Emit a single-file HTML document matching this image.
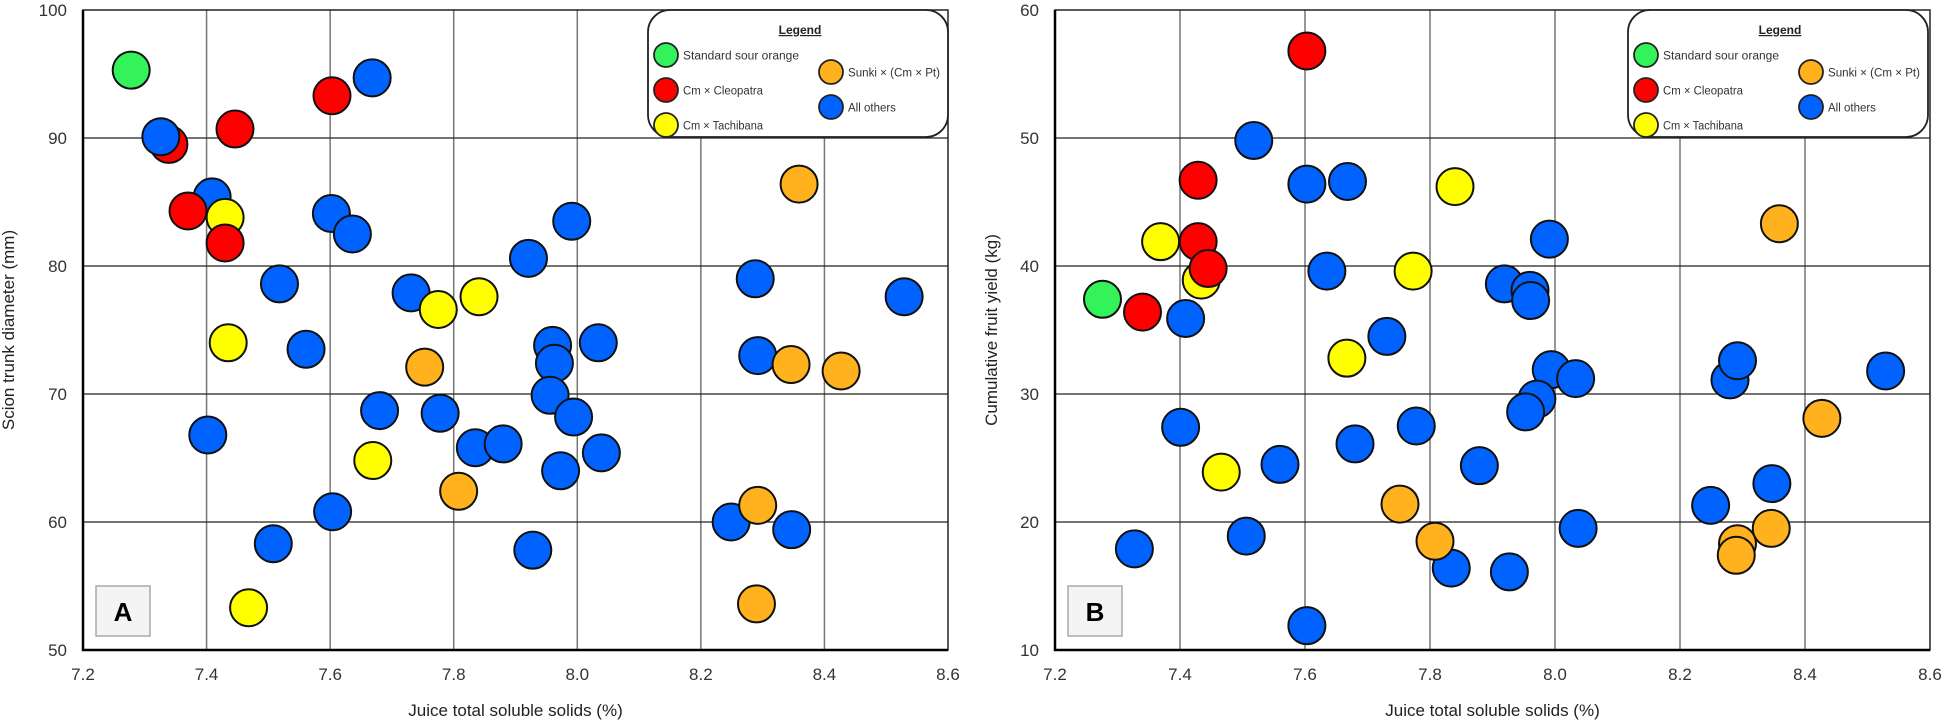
<!DOCTYPE html>
<html><head><meta charset="utf-8"><style>
html,body{margin:0;padding:0;background:#fff;}
svg{display:block;font-family:"Liberation Sans",sans-serif;}
</style></head><body>
<svg id="chart" width="1949" height="721" viewBox="0 0 1949 721" xmlns="http://www.w3.org/2000/svg"></svg>
<script>
const xTicks = ["7.2","7.4","7.6","7.8","8.0","8.2","8.4","8.6"];
const xTickVals = [7.2,7.4,7.6,7.8,8.0,8.2,8.4,8.6];
const yTicksA = [50,60,70,80,90,100];
const yTicksB = [10,20,30,40,50,60];
const groupNames = ["Standard sour orange","Cm × Cleopatra","Cm × Tachibana","Sunki × (Cm × Pt)","All others"];
const groupColors = ["#33f25a","#ff0000","#ffff00","#ffb11e","#0063ff"];
// group codes: 0 green, 1 red, 2 yellow, 3 orange, 4 blue
const juiceA = [7.409,7.602,7.636,7.991,7.921,7.518,7.731,7.561,7.960,7.963,8.034,7.956,7.994,7.680,7.778,7.402,7.835,7.880,8.039,7.973,7.604,7.508,7.928,8.288,8.529,8.292,8.249,8.347,7.668,
  7.278,7.339,7.446,7.603,7.370,7.430,7.430,7.775,7.841,7.435,7.669,7.468,7.753,7.808,8.359,8.346,8.427,8.292,8.290,7.326];
const trunkA = [85.4,84.1,82.5,83.5,80.6,78.6,77.9,73.5,73.8,72.4,74.0,69.9,68.2,68.7,68.5,66.8,65.8,66.1,65.4,64.0,60.8,58.3,57.8,79.0,77.6,73.0,60.0,59.4,94.7,
  95.3,89.5,90.7,93.3,84.3,83.8,81.8,76.6,77.6,74.0,64.8,53.3,72.1,62.4,86.4,72.3,71.8,61.3,53.6,90.1];
const groupA = [4,4,4,4,4,4,4,4,4,4,4,4,4,4,4,4,4,4,4,4,4,4,4,4,4,4,4,4,4,
  0,1,1,1,1,2,1,2,2,2,2,2,3,3,3,3,3,3,3,4];
const juiceB = [7.518,7.603,7.668,7.991,7.635,7.409,7.919,7.960,7.961,7.731,7.994,8.033,7.971,7.953,7.401,7.778,7.680,7.560,7.879,8.037,7.834,7.927,7.506,7.327,7.603,8.249,8.280,8.292,8.529,8.347,
  7.603,7.429,7.840,7.369,7.429,7.434,7.445,7.773,7.276,7.340,7.667,7.466,7.752,7.808,8.359,8.427,8.292,8.290,8.346];
const yieldB = [49.8,46.4,46.6,42.1,39.6,35.9,38.6,38.1,37.3,34.5,31.9,31.2,29.6,28.6,27.4,27.5,26.1,24.5,24.4,19.5,16.4,16.1,18.9,17.9,11.9,21.3,31.1,32.6,31.8,23.0,
  56.8,46.7,46.2,41.9,41.9,38.9,39.8,39.6,37.4,36.4,32.8,23.9,21.4,18.5,43.3,28.1,18.3,17.4,19.5];
const groupB = [4,4,4,4,4,4,4,4,4,4,4,4,4,4,4,4,4,4,4,4,4,4,4,4,4,4,4,4,4,4,
  1,1,2,2,1,2,1,2,0,1,2,2,3,3,3,3,3,3,3];

const NS = "http://www.w3.org/2000/svg";
const svg = document.getElementById('chart');
function mk(tag, attrs, parent){const e=document.createElementNS(NS,tag);for(const k in attrs)e.setAttribute(k,attrs[k]);(parent||svg).appendChild(e);return e;}

function drawPanel(p){
  const g = mk('g',{});
  
  
  const sx = v => p.x0 + (v-7.2)/(8.6-7.2)*(p.x1-p.x0);
  const sy = v => p.y1 - (v-p.ymin)/(p.ymax-p.ymin)*(p.y1-p.y0);
  xTickVals.forEach((v,i)=>{
    if(i>0 && i<xTickVals.length-1){
      const l = mk('line',{x1:sx(v),x2:sx(v),y1:p.y0,y2:p.y1,stroke:'#777','stroke-width':1.5},g);
      
      
    }
    const t = mk('text',{x:sx(v),y:p.y1+30,'font-size':17,fill:'#333','text-anchor':'middle'},g);
    t.textContent = xTicks[i];
    
    
  });
  p.yt.forEach((v,i)=>{
    if(i>0 && i<p.yt.length-1){
      const l = mk('line',{x1:p.x0,x2:p.x1,y1:sy(v),y2:sy(v),stroke:'#222','stroke-width':1.3},g);
      
      
    }
    const t = mk('text',{x:p.x0-16,y:sy(v)+6,'font-size':17,fill:'#333','text-anchor':'end'},g);
    t.textContent = String(v);
    
    
  });
  const fr = mk('rect',{x:p.x0,y:p.y0,width:p.x1-p.x0,height:p.y1-p.y0,fill:'none',stroke:'#222','stroke-width':1.5},g);
  
  
  const ax = mk('path',{d:`M${p.x0},${p.y0} V${p.y1} H${p.x1}`,fill:'none',stroke:'#000','stroke-width':2.5},g);
  
  
  const lb = mk('rect',{x:p.x0+13,y:p.y1-64,width:54,height:50,fill:'#f4f4f4',stroke:'#aaa','stroke-width':1.5},g);
  
  
  const lt = mk('text',{x:p.x0+40,y:p.y1-29,'font-size':26,'font-weight':'bold','text-anchor':'middle',fill:'#000'},g);
  lt.textContent = p.label;
  
  
  p.xs.forEach((xv,i)=>{
    const c = mk('circle',{cx:sx(xv),cy:sy(p.ys[i]),r:18.5,fill:groupColors[p.gs[i]],stroke:'#111','stroke-width':2},g);
    
    
  });
  const xt = mk('text',{x:(p.x0+p.x1)/2,y:p.y1+66,'font-size':17,fill:'#222','text-anchor':'middle'},g);
  xt.textContent = 'Juice total soluble solids (%)';
  
  
  const yt = mk('text',{x:0,y:0,'font-size':17,fill:'#222','text-anchor':'middle',transform:`translate(${p.ytx},${(p.y0+p.y1)/2}) rotate(-90)`},g);
  yt.textContent = p.ytitle;
  
  
  const L = mk('g',{transform:`translate(${p.legx},10)`},g);
  
  
  const lr = mk('rect',{x:0,y:0,width:300,height:127,rx:22,fill:'#fff',stroke:'#222','stroke-width':1.8},L);
  
  
  const tt = mk('text',{x:152,y:24,'font-size':12,'font-weight':'bold','text-anchor':'middle','text-decoration':'underline',fill:'#222'},L);
  tt.textContent = 'Legend';
  
  
  const pos = [[18,45],[18,80],[18,115],[183,62],[183,97]];
  const widths = [116,80,80,92,0];
  groupNames.forEach((n,i)=>{
    const e = mk('g',{},L);
    
    
    mk('circle',{cx:pos[i][0],cy:pos[i][1],r:12,fill:groupColors[i],stroke:'#222','stroke-width':1.8},e);
    const t = mk('text',{x:pos[i][0]+17,y:pos[i][1]+4.5,'font-size':11.5,fill:'#333'},e);
    if(widths[i]) { t.setAttribute('textLength', widths[i]); t.setAttribute('lengthAdjust','spacingAndGlyphs'); }
    t.textContent = n;
  });
}
drawPanel({key:'a',label:'A',x0:83,x1:948,y0:10,y1:650,ymin:50,ymax:100,yt:yTicksA,xs:juiceA,ys:trunkA,gs:groupA,ytitle:'Scion trunk diameter (mm)',ytx:14,legx:648});
drawPanel({key:'b',label:'B',x0:1055,x1:1930,y0:10,y1:650,ymin:10,ymax:60,yt:yTicksB,xs:juiceB,ys:yieldB,gs:groupB,ytitle:'Cumulative fruit yield (kg)',ytx:997,legx:1628});
</script>
</body></html>
